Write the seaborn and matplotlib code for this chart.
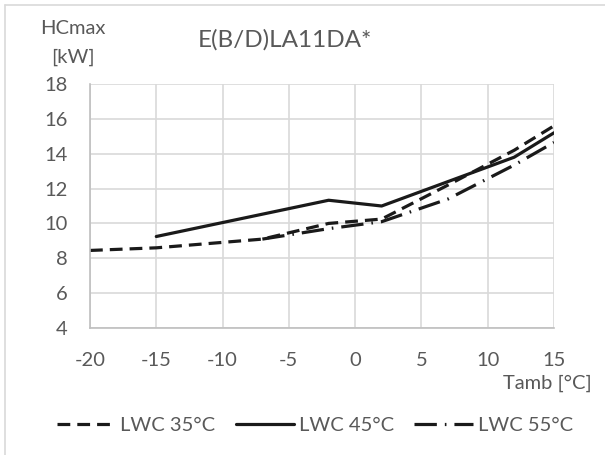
import matplotlib
matplotlib.use("Agg")
import matplotlib.pyplot as plt
import seaborn as sns
import pandas as pd

# values
t_35 = [-20, -15, -7, -2, 2, 7, 12, 15]
hc_35 = [8.45, 8.6, 9.1, 10.0, 10.25, 12.2, 14.2, 15.6]
t_45 = [-15, -2, 2, 7, 12, 15]
hc_45 = [9.25, 11.33, 11.0, 12.4, 13.8, 15.2]
t_55 = [-7, -2, 2, 7, 12, 15]
hc_55 = [9.1, 9.7, 10.1, 11.4, 13.35, 14.65]
series_names = ["LWC 35°C", "LWC 45°C", "LWC 55°C"]
x_ticks = [-20, -15, -10, -5, 0, 5, 10, 15]
y_ticks = [4, 6, 8, 10, 12, 14, 16, 18]

df = pd.concat([
    pd.DataFrame({"Tamb": t_35, "HC": hc_35, "series": series_names[0]}),
    pd.DataFrame({"Tamb": t_45, "HC": hc_45, "series": series_names[1]}),
    pd.DataFrame({"Tamb": t_55, "HC": hc_55, "series": series_names[2]}),
])

sns.set_style("white")
plt.rcParams["font.family"] = ["Lato", "DejaVu Sans"]
plt.rcParams["axes.unicode_minus"] = False
grey_txt = "#595959"
grid_c = "#d9d9d9"
fs = 14.5

fig = plt.figure(figsize=(6.05, 4.55), dpi=100)
ax = fig.add_axes([90 / 605, 1 - 328 / 455, 464 / 605, 244 / 455])

dashes = {series_names[0]: (4, 2.2), series_names[1]: "", series_names[2]: (7, 2.5, 0.5, 2.5)}
sns.lineplot(data=df, x="Tamb", y="HC", hue="series", style="series",
             palette=["#1a1a1a"] * 3, dashes=dashes, linewidth=2.3,
             ax=ax, legend=False, sort=False)

ax.set_xlim(-20, 15)
ax.set_ylim(4, 18)
ax.set_xticks(x_ticks)
ax.set_yticks(y_ticks)
ax.grid(True, color=grid_c, linewidth=1.2)
for s in ["top", "right"]:
    ax.spines[s].set_visible(False)
ax.spines["left"].set_color("#bfbfbf")
ax.spines["bottom"].set_color("#bfbfbf")
ax.spines["left"].set_linewidth(1.2)
ax.spines["bottom"].set_linewidth(1.2)
ax.tick_params(axis="both", colors="#bfbfbf", labelcolor=grey_txt, labelsize=fs, length=6, width=1.2)
ax.tick_params(axis="x", pad=11)
ax.tick_params(axis="y", pad=10)
ax.set_xlabel("")
ax.set_ylabel("")

fig.text(73 / 605, 1 - 29 / 455, "HCmax", ha="center", va="center", color=grey_txt, fontsize=fs)
fig.text(73 / 605, 1 - 57 / 455, "[kW]", ha="center", va="center", color=grey_txt, fontsize=fs)
fig.text(285 / 605, 1 - 40 / 455, "E(B/D)LA11DA*", ha="center", va="center", color=grey_txt, fontsize=17.5)
fig.text(592 / 605, 1 - 383 / 455, "Tamb [°C]", ha="right", va="center", color=grey_txt, fontsize=fs)

handles = [plt.Line2D([], [], color="#1a1a1a", linewidth=2.3, linestyle=(0, dashes[n]) if dashes[n] else "-")
           for n in series_names]
fig.legend(handles, series_names, loc="center", bbox_to_anchor=(315 / 605, 1 - 425 / 455), ncol=3,
           frameon=False, fontsize=fs, labelcolor=grey_txt, handlelength=2.9, handletextpad=0.25,
           columnspacing=1.0)

fig.add_artist(plt.Line2D([5 / 605, 5 / 605], [0, 1 - 5 / 455], transform=fig.transFigure, color=grid_c, linewidth=1.2))
fig.add_artist(plt.Line2D([5 / 605, 1], [1 - 5 / 455, 1 - 5 / 455], transform=fig.transFigure, color=grid_c, linewidth=1.2))

fig.savefig("out.png", dpi=100)
